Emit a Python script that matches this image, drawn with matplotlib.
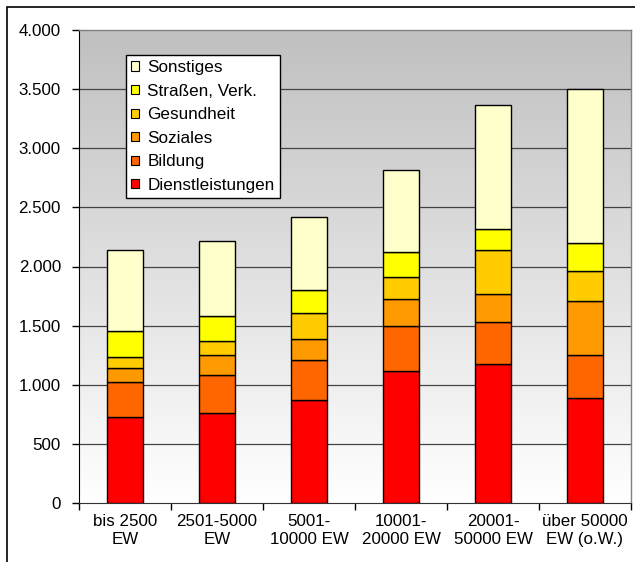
import matplotlib
matplotlib.use("Agg")
import matplotlib.pyplot as plt
import numpy as np
from matplotlib.patches import Patch, Rectangle

plt.rcParams['font.family'] = ['Liberation Sans', 'DejaVu Sans']

categories = ["bis 2500\nEW", "2501-5000\nEW", "5001-\n10000 EW",
              "10001-\n20000 EW", "20001-\n50000 EW", "über 50000\nEW (o.W.)"]

dienstleistungen = [727, 761, 871, 1117, 1176, 888]
bildung          = [296, 322, 339, 380, 355, 364]
soziales         = [119, 169, 177, 229, 237, 457]
gesundheit       = [93, 118, 220, 186, 372, 254]
strassen         = [220, 212, 195, 211, 178, 237]
sonstiges        = [685, 634, 618, 694, 1049, 1300]

series_names = ["Dienstleistungen", "Bildung", "Soziales", "Gesundheit",
                "Straßen, Verk.", "Sonstiges"]
series_colors = ["#FF0000", "#FF6600", "#FF9900", "#FFCC00", "#FFFF00", "#FFFFCC"]
series_values = [dienstleistungen, bildung, soziales, gesundheit, strassen, sonstiges]

yticks = [0, 500, 1000, 1500, 2000, 2500, 3000, 3500, 4000]
ytick_labels = ["0", "500", "1.000", "1.500", "2.000", "2.500", "3.000", "3.500", "4.000"]

W, H = 635, 562
fig = plt.figure(figsize=(W / 100, H / 100), dpi=100)

# outer chart frame (runs off the right and bottom edges)
fig.patches.append(Rectangle((7 / W, -0.1), 1.2, (H - 7) / H + 0.1,
                             transform=fig.transFigure, fill=False,
                             edgecolor="black", linewidth=1.2, zorder=0))

ax = fig.add_axes([79 / W, 1 - 503 / H, (631 - 79) / W, (503 - 30) / H])

# grey-to-white gradient plot area
grad = np.linspace(0, 1, 256).reshape(-1, 1)
ax.imshow(grad, extent=[-0.5, len(categories) - 0.5, 0, 4000], aspect="auto",
          cmap=matplotlib.colors.LinearSegmentedColormap.from_list(
              "bg", ["#FFFFFF", "#C0C0C0"]),
          origin="lower", zorder=0, interpolation="bicubic")

x = np.arange(len(categories))
bottom = np.zeros(len(categories))
handles = []
for name, color, vals in zip(series_names, series_colors, series_values):
    ax.bar(x, vals, width=0.40, bottom=bottom, color=color,
           edgecolor="black", linewidth=1.0, zorder=3)
    bottom += np.array(vals)
    handles.append(Patch(facecolor=color, edgecolor="black", linewidth=0.8, label=name))

ax.set_xlim(-0.5, len(categories) - 0.5)
ax.set_ylim(0, 4000)
ax.set_yticks(yticks)
ax.set_yticklabels(ytick_labels)
for yv in yticks[1:-1]:
    ax.axhline(yv, color="#444444", linewidth=0.9, zorder=1)

ax.set_xticks(x)
ax.set_xticklabels(categories, fontsize=12.2, linespacing=1.2)
ax.set_xticks(np.arange(len(categories) + 1) - 0.5, minor=True)
ax.tick_params(axis="x", which="major", length=0, pad=8)
ax.tick_params(axis="x", which="minor", length=5, width=1, direction="out")
ax.tick_params(axis="y", length=5, width=1, direction="out", pad=8, labelsize=12.2)

for side in ("top", "right"):
    ax.spines[side].set_color("#808080")
    ax.spines[side].set_linewidth(1.0)
ax.spines["left"].set_color("black")
ax.spines["bottom"].set_color("#333333")

leg = ax.legend(handles=handles[::-1], loc="upper left",
                bbox_to_anchor=(126 / W, 1 - 55 / H), bbox_transform=fig.transFigure,
                fontsize=12.3, frameon=True, fancybox=False, framealpha=1,
                edgecolor="black", handlelength=0.45, handleheight=0.45,
                handletextpad=0.5, labelspacing=0.5, borderpad=0.3,
                borderaxespad=0)
leg.get_frame().set_linewidth(1.0)
leg.set_zorder(5)

fig.savefig("out.png", dpi=100)
